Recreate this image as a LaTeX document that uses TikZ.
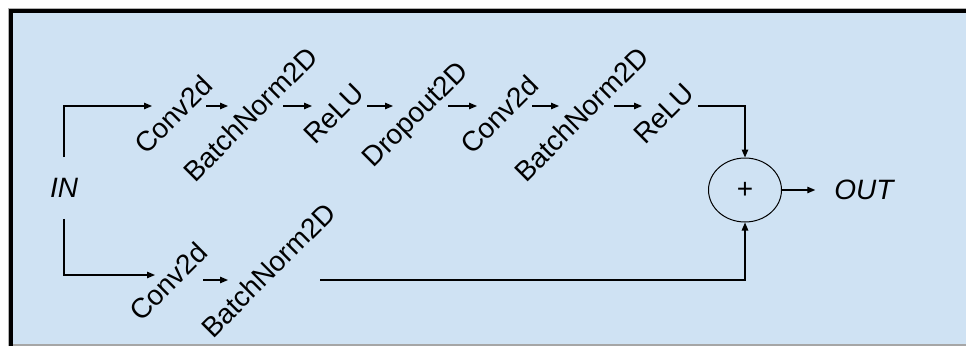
\documentclass[tikz,border=0pt]{standalone}
\usepackage{fontspec}
\setmainfont{Liberation Sans}
\usetikzlibrary{arrows.meta,shapes.geometric}
\definecolor{panelblue}{HTML}{CFE2F3}
\tikzset{
  layer/.style={rotate=45, anchor=north, inner sep=1pt, font=\fontsize{28}{34}\selectfont},
  port/.style={font=\fontsize{28}{34}\selectfont\itshape},
  flow/.style={->, line width=1.2pt},
}
\begin{document}
\begin{tikzpicture}[x=1pt, y=-1pt, >={Triangle[length=8pt,width=6.5pt]}]
    % 1. 背景与边框
    \useasboundingbox (0,0) rectangle (966,346);
    \fill[panelblue] (11,11) rectangle (966,346);
    \draw[gray!70, line width=2pt] (11,345) -- (966,345);
    \draw[gray!60, line width=0.8pt] (8.5,346) -- (8.5,8.5) -- (966,8.5);
    \draw[black, line width=4pt] (11,346) -- (11,11) -- (966,11);

    % 2. 输入、求和、输出
    \node[port, inner xsep=1pt, inner ysep=21pt] (in) at (64,188) {IN};
    \node[draw, ellipse, line width=1pt, minimum width=73pt, minimum height=64pt,
          font=\fontsize{28}{34}\selectfont] (plus) at (745,190) {+};
    \node[port, inner sep=1pt] (out) at (864,190) {OUT};

    % 3. 主路径上的各层
    \node[layer] (conv1) at (165,106) {Conv2d};
    \node[layer] (bn1)   at (242,106) {BatchNorm2D};
    \node[layer] (relu1) at (326,106) {ReLU};
    \node[layer] (drop1) at (407,106) {Dropout2D};
    \node[layer] (conv2) at (491,106) {Conv2d};
    \node[layer] (bn2)   at (573,106) {BatchNorm2D};
    \node[layer] (relu2) at (656,106) {ReLU};

    % 4. 捷径上的各层
    \node[layer] (conv3) at (160,273) {Conv2d};
    \node[layer] (bn3)   at (260,262) {BatchNorm2D};

    % 5. 连线
    \draw[flow] (in) |- ([xshift=-13pt]conv1.north);
    \foreach \a/\b in {conv1/bn1, bn1/relu1, relu1/drop1, drop1/conv2, conv2/bn2, bn2/relu2}
        \draw[flow] ([xshift=41pt]\a.north) -- ([xshift=-14pt]\b.north);
    \draw[flow] ([xshift=42pt]relu2.north) -| (plus);

    \draw[flow] (in) |- ([shift={(-5,2)}]conv3.north);
    \draw[flow] ([shift={(43,7)}]conv3.north) -- ([shift={(-32,18)}]bn3.north);
    \draw[flow] ([shift={(60,18)}]bn3.north) -| (plus);

    \draw[flow, shorten >=18pt] (plus) -- (out);
\end{tikzpicture}
\end{document}
